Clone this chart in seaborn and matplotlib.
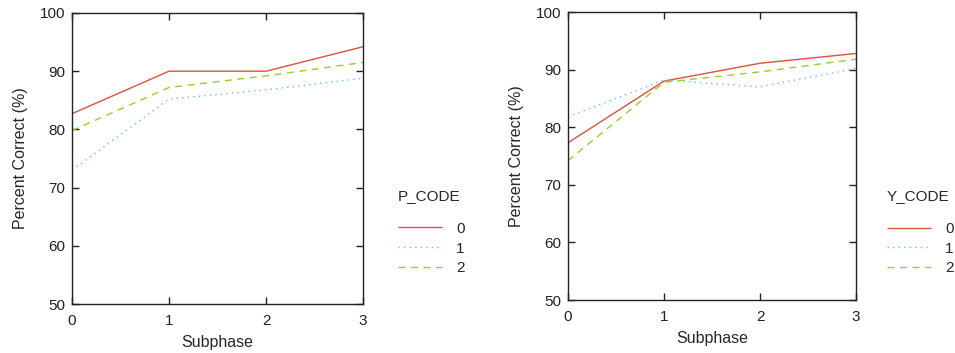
import matplotlib
matplotlib.use("Agg")
import matplotlib.pyplot as plt
import seaborn as sns
import pandas as pd

subphase = [0, 1, 2, 3]
p_codes = ["0", "1", "2"]
p_values = {
    "0": [82.7, 90.0, 90.0, 94.2],
    "1": [73.0, 85.2, 86.8, 88.8],
    "2": [79.8, 87.2, 89.2, 91.5],
}
y_codes = ["0", "1", "2"]
y_values = {
    "0": [77.3, 88.0, 91.1, 92.8],
    "1": [81.8, 88.2, 87.0, 90.2],
    "2": [74.2, 87.8, 89.6, 91.8],
}
y_ticks = [50, 60, 70, 80, 90, 100]

colors = ["#e0503c", "#5cc8d8", "#98d028"]
dashes = [(1, 0), (1, 3), (5, 4)]

sns.set_theme(style="ticks")
plt.rcParams["font.family"] = ["Liberation Sans", "DejaVu Sans"]


def long_df(codes, values, name):
    rows = []
    for c in codes:
        for x, v in zip(subphase, values[c]):
            rows.append({"Subphase": x, "Percent": v, name: c})
    return pd.DataFrame(rows)


fig = plt.figure(figsize=(9.55, 3.53), dpi=100)
ax1 = fig.add_axes([72 / 955, (353 - 304) / 353, (363 - 72) / 955, (304 - 13) / 353])
ax2 = fig.add_axes([568 / 955, (353 - 300) / 353, (856 - 568) / 955, (300 - 12) / 353])

for ax, codes, values, name, anchor in [
    (ax1, p_codes, p_values, "P_CODE", (1.12, 0.395)),
    (ax2, y_codes, y_values, "Y_CODE", (1.108, 0.385)),
]:
    df = long_df(codes, values, name)
    sns.lineplot(
        data=df, x="Subphase", y="Percent", hue=name, style=name,
        palette=dict(zip(codes, colors)), dashes=dict(zip(codes, dashes)),
        linewidth=1.0, ax=ax,
    )
    ax.set_xlim(0, 3)
    ax.set_ylim(50, 100)
    ax.set_xticks(subphase)
    ax.set_yticks(y_ticks)
    ax.set_xlabel("Subphase", fontsize=11.5, labelpad=5)
    ax.set_ylabel("Percent Correct (%)", fontsize=11.5, labelpad=8)
    ax.tick_params(direction="in", top=True, right=True, length=5, width=1,
                   labelsize=11, colors="#222222")
    ax.tick_params(axis="x", pad=7)
    ax.tick_params(axis="y", pad=5)
    for s in ax.spines.values():
        s.set_linewidth(1.0)
        s.set_color("#222222")
    leg = ax.legend(title=name, loc="upper left", bbox_to_anchor=anchor,
                    frameon=False, fontsize=11, title_fontsize=11,
                    borderaxespad=0, borderpad=0,
                    handlelength=2.9, labelspacing=0.38, handletextpad=0.9)
    leg._legend_box.align = "left"
    leg._legend_box.sep = 13.5

fig.savefig("out.png", dpi=100)
